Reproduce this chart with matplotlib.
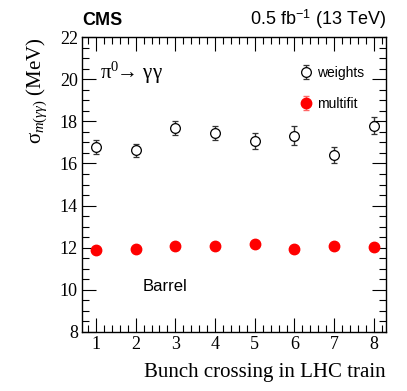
import matplotlib
matplotlib.use("Agg")
import matplotlib.pyplot as plt
from matplotlib.ticker import MultipleLocator

bunch = [1, 2, 3, 4, 5, 6, 7, 8]
weights = [16.78, 16.62, 17.68, 17.45, 17.08, 17.32, 16.40, 17.80]
weights_err = [0.32, 0.30, 0.33, 0.35, 0.38, 0.45, 0.40, 0.42]
multifit = [11.90, 11.95, 12.10, 12.10, 12.18, 11.93, 12.10, 12.03]
multifit_err = [0.08, 0.08, 0.08, 0.08, 0.08, 0.08, 0.08, 0.08]

serif = "Liberation Serif"
sans = "Liberation Sans"
plt.rcParams["mathtext.fontset"] = "custom"
plt.rcParams["mathtext.rm"] = serif
plt.rcParams["mathtext.it"] = serif + ":italic"
plt.rcParams["mathtext.bf"] = serif + ":bold"

fig = plt.figure(figsize=(4.07, 3.91), dpi=100)
ax = fig.add_axes([0.2015, 0.151, 0.7465, 0.754])

ax.errorbar(bunch, weights, yerr=weights_err, fmt="o", mfc="white", mec="black",
            ms=7, mew=0.9, ecolor="#333333", elinewidth=1.0, capsize=2, capthick=1.0,
            label="weights")
ax.errorbar(bunch, multifit, yerr=multifit_err, fmt="o", color="red", ms=7.5,
            ecolor="#ff6666", elinewidth=1.0, capsize=2, capthick=1.0,
            label="multifit")

ax.set_xlim(0.65, 8.3)
ax.set_ylim(8, 22)
ax.xaxis.set_major_locator(MultipleLocator(1))
ax.xaxis.set_minor_locator(MultipleLocator(0.2))
ax.yaxis.set_major_locator(MultipleLocator(2))
ax.yaxis.set_minor_locator(MultipleLocator(0.5))
ax.tick_params(which="both", direction="in", top=True, right=True, width=0.8)
ax.tick_params(which="major", length=10, labelsize=13, pad=3)
ax.tick_params(which="minor", length=5)
for lab in ax.get_xticklabels() + ax.get_yticklabels():
    lab.set_fontfamily(serif)
for s in ax.spines.values():
    s.set_linewidth(1.0)

ax.set_xlabel("Bunch crossing in LHC train", fontfamily=serif, fontsize=15,
              loc="right", labelpad=7)
ax.set_ylabel(r"$\mathrm{\sigma}_{m(\gamma\gamma)}$ (MeV)", fontfamily=serif,
              fontsize=15, loc="top", labelpad=8)

fig.text(0.2015, 0.935, "CMS", fontfamily=sans, fontweight="bold", fontsize=13)
fig.text(0.948, 0.935, r"0.5 fb$^{\mathregular{-1}}$ (13 TeV)", fontfamily=sans,
         fontsize=13, ha="right")
ax.text(0.06, 0.86, r"$\mathrm{\pi}^{0}\!\!\rightarrow\,\mathrm{\gamma\gamma}$",
        transform=ax.transAxes, fontsize=15, fontfamily=serif)
ax.text(0.20, 0.14, "Barrel", transform=ax.transAxes, fontsize=12, fontfamily=sans)

leg = ax.legend(loc="upper right", bbox_to_anchor=(0.97, 0.945), frameon=False,
                prop={"family": sans, "size": 10}, handletextpad=0.2,
                labelspacing=1.2, handlelength=1.2)

fig.savefig("out.png", dpi=100)
